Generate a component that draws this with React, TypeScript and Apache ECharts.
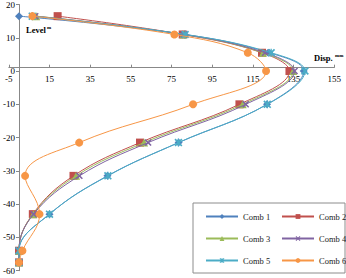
import React, { useEffect, useRef } from "react";
import * as echarts from "echarts";

const levels = [16.5, 11, 5.5, 0, -10, -21.5, -31.5, -43, -54, -57.5];
const seriesNames = ["Comb 1", "Comb 2", "Comb 3", "Comb 4", "Comb 5", "Comb 6"];
const comb1 = [0, 81.5, 123, 140, 122, 78.5, 43.5, 15, 0, 0];
const comb2 = [19, 80.5, 119.5, 133, 108.4, 59.5, 26.8, 6.8, 0, 0];
const comb3 = [8.5, 80.8, 120, 134.8, 110, 61.5, 28.1, 7, 0, 0];
const comb4 = [8, 81, 121, 135.5, 111.5, 63.5, 29.7, 7.2, 0, 0];
const comb5 = [6.5, 81.7, 124, 140.6, 122.1, 78.4, 43.7, 15, 0, 0];
const comb6 = [6.6, 76.4, 112.5, 121.5, 85.6, 29.6, 3.0, 10.1, 1.7, 0];
const xTicks = { min: -5, max: 155, interval: 20 };
const yTicks = { min: -60, max: 20, interval: 10 };

const colors = ["#4F81BD", "#C0504D", "#9BBB59", "#8064A2", "#4BACC6", "#F79646"];
const X_PATH =
  "path://M0,1.5 L1.5,0 L5,3.5 L8.5,0 L10,1.5 L6.5,5 L10,8.5 L8.5,10 L5,6.5 L1.5,10 L0,8.5 L3.5,5 Z";
const STAR_PATH =
  "path://M0,1.5 L1.5,0 L5,3.5 L8.5,0 L10,1.5 L6.5,5 L10,8.5 L8.5,10 L5,6.5 L1.5,10 L0,8.5 L3.5,5 Z M4.2,0 L5.8,0 L5.8,10 L4.2,10 Z";
const symbols = ["diamond", "rect", "triangle", X_PATH, STAR_PATH, "circle"];
const symbolSizes = [8, 8, 8, 7, 8, 8];

const FONT = "'Liberation Serif', 'Times New Roman', serif";

const GRID = { left: 8.6, right: 11.8, top: 0, bottom: 7.3 };
const W = 346;
const H = 278;

export default function App() {
  const ref = useRef<HTMLDivElement>(null);
  useEffect(() => {
    if (!ref.current) return;
    const chart = echarts.init(ref.current, undefined, { renderer: "svg" });
    const all = [comb1, comb2, comb3, comb4, comb5, comb6];
    const series = all.map((vals, i) => ({
      name: seriesNames[i],
      type: "line",
      smooth: 0.4,
      data: vals.map((v, j) => [v, levels[j]]),
      symbol: symbols[i],
      symbolSize: symbolSizes[i],
      lineStyle: { color: colors[i], width: 1 },
      itemStyle: { color: colors[i] },
      z: 2 + i,
    }));
    const plotH = H - GRID.top - GRID.bottom;
    const plotW = W - GRID.left - GRID.right;
    const xOffset = -(plotH * (0 - yTicks.min)) / (yTicks.max - yTicks.min);
    const yOffset = -(plotW * (0 - xTicks.min)) / (xTicks.max - xTicks.min);
    const legendCommon = {
      orient: "vertical",
      itemWidth: 32,
      itemHeight: 6,
      itemGap: 13,
      textStyle: { fontFamily: FONT, fontSize: 8.5, color: "#222" },
    };
    chart.setOption({
      animation: false,
      backgroundColor: "#fff",
      grid: GRID,
      xAxis: {
        type: "value",
        ...xTicks,
        position: "bottom",
        offset: xOffset,
        axisLine: { onZero: false, lineStyle: { color: "#888", width: 1 } },
        axisTick: { show: true, inside: true, length: 3, lineStyle: { color: "#888" } },
        splitLine: { show: false },
        axisLabel: { fontFamily: FONT, fontSize: 9, color: "#000", margin: 7 },
      },
      yAxis: {
        type: "value",
        ...yTicks,
        position: "left",
        offset: yOffset,
        axisLine: { onZero: false, lineStyle: { color: "#888", width: 1 } },
        axisTick: { show: true, length: 3, lineStyle: { color: "#888" } },
        splitLine: { show: false },
        axisLabel: { fontFamily: FONT, fontSize: 9, color: "#000", margin: 4 },
      },
      legend: [
        { ...legendCommon, left: 200, top: 207, data: ["Comb 1", "Comb 3", "Comb 5"] },
        { ...legendCommon, left: 276, top: 207, data: ["Comb 2", "Comb 4", "Comb 6"] },
      ],
      graphic: [
        {
          type: "rect",
          shape: { x: 193, y: 203, width: 152, height: 70 },
          style: { fill: "#fff", stroke: "#8c8c8c", lineWidth: 1 },
          z: 0,
          silent: true,
        },
        {
          type: "text",
          x: 26,
          y: 29.5,
          style: { text: "Level", fontFamily: FONT, fontWeight: "bold", fontSize: 8.5, fill: "#000", verticalAlign: "middle" },
        },
        {
          type: "text",
          x: 47,
          y: 27.5,
          style: { text: "m", fontFamily: FONT, fontWeight: "bold", fontSize: 5, fill: "#000", verticalAlign: "middle" },
        },
        {
          type: "text",
          x: 314,
          y: 57.5,
          style: { text: "Disp.", fontFamily: FONT, fontWeight: "bold", fontSize: 8.5, fill: "#000", verticalAlign: "middle" },
        },
        {
          type: "text",
          x: 335,
          y: 55.5,
          style: { text: "mm", fontFamily: FONT, fontWeight: "bold", fontSize: 5, fill: "#000", verticalAlign: "middle" },
        },
      ],
      series,
    });
    return () => chart.dispose();
  }, []);
  return (
    <div
      ref={ref}
      style={{ position: "fixed", left: 0, top: 0, width: W, height: H }}
    />
  );
}
